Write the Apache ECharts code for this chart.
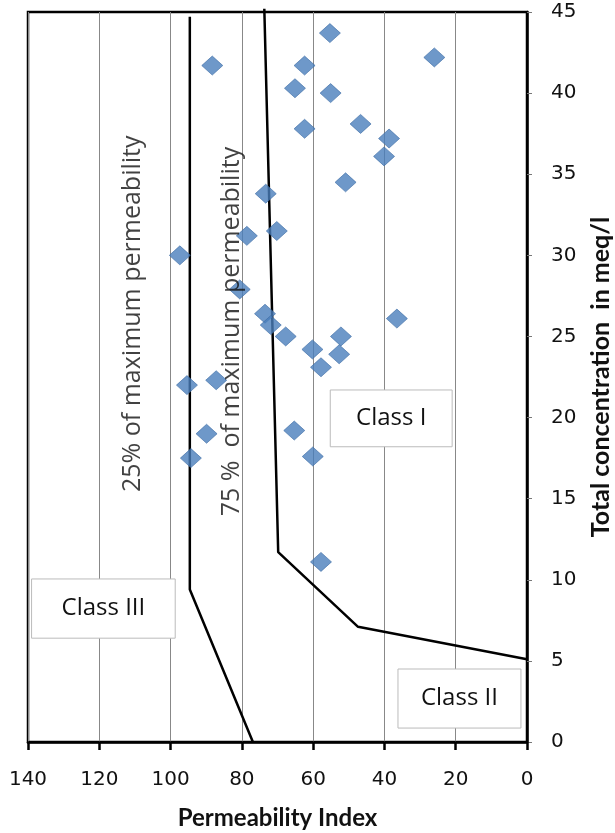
<!DOCTYPE html>
<html>
<head>
<meta charset="utf-8">
<script src="https://cdn.jsdelivr.net/npm/echarts@6/dist/echarts.min.js"></script>
<style>
html,body{margin:0;padding:0;background:#fff;}
#chart{width:615px;height:833px;}
</style>
</head>
<body>
<div id="chart"></div>
<script>
// Sample points: Permeability Index (x) vs Total concentration meq/l (y)
var permeabilityIndex = [55.3, 26.0, 88.3, 62.4, 65.1, 55.1, 62.4, 46.7, 38.7, 40.1, 50.9, 73.3, 70.2, 78.6, 97.4, 80.6, 73.5, 71.9, 67.7, 36.5, 52.2, 60.2, 52.7, 57.8, 95.4, 87.2, 89.9, 94.3, 65.3, 60.1, 57.8];
var totalConc = [43.7, 42.2, 41.7, 41.7, 40.3, 40.0, 37.8, 38.1, 37.2, 36.1, 34.5, 33.8, 31.5, 31.2, 30.0, 27.9, 26.4, 25.7, 25.0, 26.1, 25.0, 24.2, 23.9, 23.1, 22.0, 22.3, 19.0, 17.5, 19.2, 17.6, 11.1];

// Boundary lines
var line25X = [94.6, 94.6, 76.9];
var line25Y = [44.7, 9.4, 0];
var line75X = [73.7, 69.8, 47.4, 0];
var line75Y = [45.2, 11.7, 7.1, 5.1];

// Axis ticks
var xTicks = [140, 120, 100, 80, 60, 40, 20, 0];
var yTicks = [0, 5, 10, 15, 20, 25, 30, 35, 40, 45];

// Class boxes
var classNames = ['Class I', 'Class II', 'Class III'];
var classX1 = [55.2, 36.2, 139.0];
var classX2 = [21.0, 1.7, 98.7];
var classY1 = [21.7, 4.5, 10.05];
var classY2 = [18.2, 0.86, 6.4];

// Rotated annotations
var noteTexts = ['25% of maximum permeability', '75 %  of maximum permeability'];
var noteX = [110.5, 82.7];
var noteY = [26.4, 25.3];

var FONT = 'Open Sans';
var TICKFONT = 'DejaVu Sans';
var TITLEFONT = 'Lato';

function zip(a, b) { return a.map(function (v, i) { return [v, b[i]]; }); }

var chart = echarts.init(document.getElementById('chart'));
chart.setOption({
  animation: false,
  backgroundColor: '#fff',
  grid: {
    left: 28, right: 88, top: 12, bottom: 91, outerBoundsMode: 'none', containLabel: false,
    show: true, borderColor: '#000', borderWidth: 2.5, backgroundColor: 'transparent'
  },
  xAxis: {
    type: 'value', inverse: true, min: 0, max: 140, interval: 20,
    name: 'Permeability Index', nameLocation: 'middle', nameGap: 64,
    nameTextStyle: { fontFamily: TITLEFONT, fontWeight: 'bold', fontSize: 24, color: '#111' },
    axisLine: { show: true, lineStyle: { color: '#000', width: 2.5 } },
    axisTick: { show: true, length: 8, lineStyle: { color: '#000', width: 2.5 } },
    axisLabel: { margin: 28, fontFamily: TICKFONT, fontSize: 20, color: '#111',
      formatter: function (v) { return xTicks.indexOf(v) >= 0 ? String(v) : ''; } },
    splitLine: { show: true, lineStyle: { color: '#888', width: 1 } }
  },
  yAxis: {
    type: 'value', position: 'right', min: 0, max: 45, interval: 5,
    name: 'Total concentration  in meq/l', nameLocation: 'middle', nameGap: 61, nameRotate: 90,
    nameTextStyle: { fontFamily: TITLEFONT, fontWeight: 'bold', fontSize: 25, color: '#111' },
    axisLine: { show: true, lineStyle: { color: '#000', width: 2.5 } },
    axisTick: { show: true, length: 5, lineStyle: { color: '#777', width: 1 } },
    axisLabel: { margin: 24, align: 'left', fontFamily: TICKFONT, fontSize: 20, color: '#111',
      formatter: function (v) { return yTicks.indexOf(v) >= 0 ? String(v) : ''; } },
    splitLine: { show: false }
  },
  series: [
    {
      type: 'line', name: 'boxes', data: [], silent: true,
      markArea: {
        silent: true,
        itemStyle: { color: '#fff', borderColor: '#bbb', borderWidth: 1 },
        label: { show: true, position: 'inside', fontFamily: FONT, fontSize: 24, color: '#111' },
        data: classNames.map(function (n, i) {
          return [{ name: n, coord: [classX1[i], classY1[i]] }, { coord: [classX2[i], classY2[i]] }];
        })
      },
      z: 3
    },
    {
      type: 'line', name: '25%', data: zip(line25X, line25Y), symbol: 'none', clip: false,
      lineStyle: { color: '#000', width: 2.5 }, z: 4
    },
    {
      type: 'line', name: '75%', data: zip(line75X, line75Y), symbol: 'none', clip: false,
      lineStyle: { color: '#000', width: 2.5 }, z: 4
    },
    {
      type: 'scatter', name: 'samples', data: zip(permeabilityIndex, totalConc),
      symbol: 'diamond', symbolSize: [21, 19],
      itemStyle: { color: '#4a7ebb', borderColor: '#3f6da6', borderWidth: 0.8 }, z: 5
    },
    {
      type: 'scatter', name: 'notes', silent: true, symbolSize: 0,
      data: noteTexts.map(function (t, i) { return { value: [noteX[i], noteY[i]], name: t }; }),
      label: { show: true, position: 'inside', rotate: 90, formatter: '{b}',
        fontFamily: FONT, fontSize: 25, color: '#111' },
      z: 6
    }
  ]
});
</script>
</body>
</html>
